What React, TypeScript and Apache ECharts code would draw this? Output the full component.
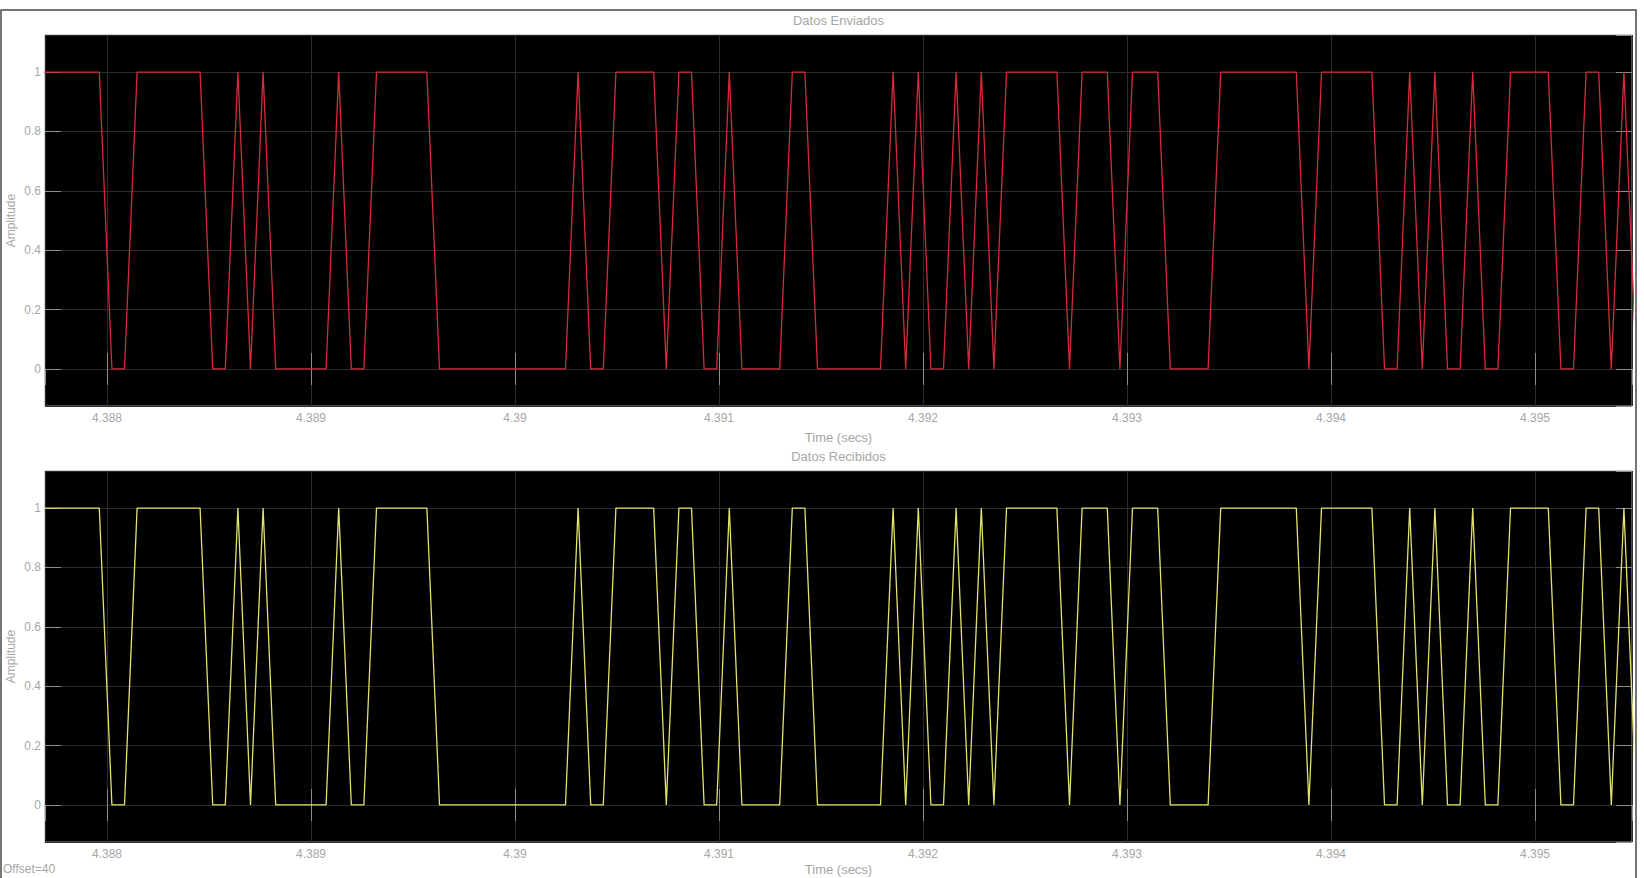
import React, { useEffect, useRef } from "react";
import * as echarts from "echarts";

// Sampling of the scope traces (seconds)
const T0 = 4.38765343;
const TS = 6.1765e-5;

// Bits read from the scope, one per sample
const BITS_SENT = [
  1, 1, 1, 1, 1, 1, 0, 0, 1, 1, 1, 1, 1, 1, 0, 0, 1, 0, 1, 0, 0, 0, 0, 0, 1, 0, 0,
  1, 1, 1, 1, 1, 0, 0, 0, 0, 0, 0, 0, 0, 0, 0, 0, 1, 0, 0, 1, 1, 1, 1, 0, 1, 1, 0,
  0, 1, 0, 0, 0, 0, 1, 1, 0, 0, 0, 0, 0, 0, 1, 0, 1, 0, 0, 1, 0, 1, 0, 1, 1, 1, 1,
  1, 0, 1, 1, 1, 0, 1, 1, 1, 0, 0, 0, 0, 1, 1, 1, 1, 1, 1, 1, 0, 1, 1, 1, 1, 1, 0,
  0, 1, 0, 1, 0, 0, 1, 0, 0, 1, 1, 1, 1, 0, 0, 1, 1, 0, 1, 0,
];
const BITS_RECEIVED = [
  1, 1, 1, 1, 1, 1, 0, 0, 1, 1, 1, 1, 1, 1, 0, 0, 1, 0, 1, 0, 0, 0, 0, 0, 1, 0, 0,
  1, 1, 1, 1, 1, 0, 0, 0, 0, 0, 0, 0, 0, 0, 0, 0, 1, 0, 0, 1, 1, 1, 1, 0, 1, 1, 0,
  0, 1, 0, 0, 0, 0, 1, 1, 0, 0, 0, 0, 0, 0, 1, 0, 1, 0, 0, 1, 0, 1, 0, 1, 1, 1, 1,
  1, 0, 1, 1, 1, 0, 1, 1, 1, 0, 0, 0, 0, 1, 1, 1, 1, 1, 1, 1, 0, 1, 1, 1, 1, 1, 0,
  0, 1, 0, 1, 0, 0, 1, 0, 0, 1, 1, 1, 1, 0, 0, 1, 1, 0, 1, 0,
];

const X_RANGE = [4.38769608, 4.39547549];
const Y_RANGE = [-0.125, 1.125];
const X_STEP = 0.001;
const Y_STEP = 0.2;

const TITLES = ["Datos Enviados", "Datos Recibidos"];
const X_NAME = "Time (secs)";
const Y_NAME = "Amplitude";
const FOOTER = "Offset=40";
const LINE_COLORS = ["#d42a3c", "#e2e26c"];

const FONT = '"Liberation Sans", Arial, Helvetica, sans-serif';
const TEXT_COLOR = "#a6a6a6";

export default function App() {
  const ref = useRef<HTMLDivElement>(null);

  useEffect(() => {
    if (!ref.current) return;
    const chart = echarts.init(ref.current, undefined, { renderer: "svg" });

    const gridTops = [35, 471];
    const gridH = 371;
    const gridLeft = 45;
    const gridW = 1587;

    const tickStyle = { color: "#8e8e8e", width: 1 };
    const splitStyle = { color: "#2c2c2c", width: 1 };

    const xAxes: any[] = [];
    const yAxes: any[] = [];
    gridTops.forEach((_, g) => {
      xAxes.push({
        type: "value",
        gridIndex: g,
        min: X_RANGE[0],
        max: X_RANGE[1],
        minInterval: X_STEP,
        maxInterval: X_STEP,
        position: "bottom",
        axisLine: { show: false },
        axisTick: { show: true, inside: true, length: 16, lineStyle: tickStyle },
        axisLabel: {
          color: TEXT_COLOR,
          fontSize: 12,
          fontFamily: FONT,
          margin: 6,
          showMinLabel: false,
          showMaxLabel: false,
          formatter: (v: number) => String(parseFloat(v.toFixed(3))),
        },
        splitLine: { show: true, lineStyle: splitStyle },
      });
      xAxes.push({
        type: "value",
        gridIndex: g,
        min: X_RANGE[0],
        max: X_RANGE[1],
        minInterval: X_STEP,
        maxInterval: X_STEP,
        position: "top",
        axisLine: { show: false },
        axisTick: { show: true, inside: true, length: 16, lineStyle: tickStyle },
        axisLabel: { show: false },
        splitLine: { show: false },
      });
      yAxes.push({
        type: "value",
        gridIndex: g,
        min: Y_RANGE[0],
        max: Y_RANGE[1],
        minInterval: Y_STEP,
        maxInterval: Y_STEP,
        position: "left",
        axisLine: { show: false },
        axisTick: { show: true, inside: true, length: 16, lineStyle: tickStyle },
        axisLabel: {
          color: TEXT_COLOR,
          fontSize: 12,
          fontFamily: FONT,
          margin: 4,
          showMinLabel: false,
          showMaxLabel: false,
          formatter: (v: number) => String(parseFloat(v.toFixed(1))),
        },
        splitLine: { show: true, lineStyle: splitStyle },
      });
      yAxes.push({
        type: "value",
        gridIndex: g,
        min: Y_RANGE[0],
        max: Y_RANGE[1],
        minInterval: Y_STEP,
        maxInterval: Y_STEP,
        position: "right",
        axisLine: { show: false },
        axisTick: { show: true, inside: true, length: 16, lineStyle: tickStyle },
        axisLabel: { show: false },
        splitLine: { show: false },
      });
    });

    const toPoints = (bits: number[]) => bits.map((b, i) => [T0 + i * TS, b]);
    const traces = [BITS_SENT, BITS_RECEIVED];

    const centerX = gridLeft + gridW / 2;
    const text = (t: string, x: number, y: number, extra: any = {}) => ({
      type: "text",
      x,
      y,
      z: 10,
      style: {
        text: t,
        fill: TEXT_COLOR,
        font: `13px ${FONT}`,
        align: "center",
        verticalAlign: "middle",
        ...extra,
      },
    });

    const graphics: any[] = [
      {
        type: "rect",
        shape: { x: 1, y: 10, width: 1635, height: 900 },
        style: { fill: "none", stroke: "#4a4a4a", lineWidth: 1.5 },
        z: 0,
        silent: true,
      },
    ];
    gridTops.forEach((top, g) => {
      graphics.push(text(TITLES[g], centerX, top - 14.5));
      // keep the lower axis name inside the page
      graphics.push(text(X_NAME, centerX, Math.min(top + gridH + 31, 869)));
      graphics.push({
        type: "text",
        x: 10.5,
        y: top + gridH / 2,
        rotation: Math.PI / 2,
        z: 10,
        style: {
          text: Y_NAME,
          fill: TEXT_COLOR,
          font: `12px ${FONT}`,
          align: "center",
          verticalAlign: "middle",
        },
      });
    });
    graphics.push(text(FOOTER, 3, 869, { align: "left", font: `12px ${FONT}` }));

    chart.setOption({
      animation: false,
      backgroundColor: "#ffffff",
      grid: gridTops.map((top) => ({
        left: gridLeft,
        top,
        width: gridW,
        height: gridH,
        show: true,
        backgroundColor: "#000000",
        borderColor: "#9a9a9a",
        borderWidth: 1,
      })),
      xAxis: xAxes,
      yAxis: yAxes,
      series: traces.map((bits, g) => ({
        type: "line",
        xAxisIndex: g * 2,
        yAxisIndex: g * 2,
        data: toPoints(bits),
        showSymbol: false,
        symbol: "none",
        clip: true,
        lineStyle: { color: LINE_COLORS[g], width: 1.3 },
        z: 5,
      })),
      graphic: graphics,
    });

    return () => chart.dispose();
  }, []);

  return (
    <div
      ref={ref}
      style={{
        position: "fixed",
        left: 0,
        top: 0,
        width: 1644,
        height: 878,
        background: "#fff",
      }}
    />
  );
}
